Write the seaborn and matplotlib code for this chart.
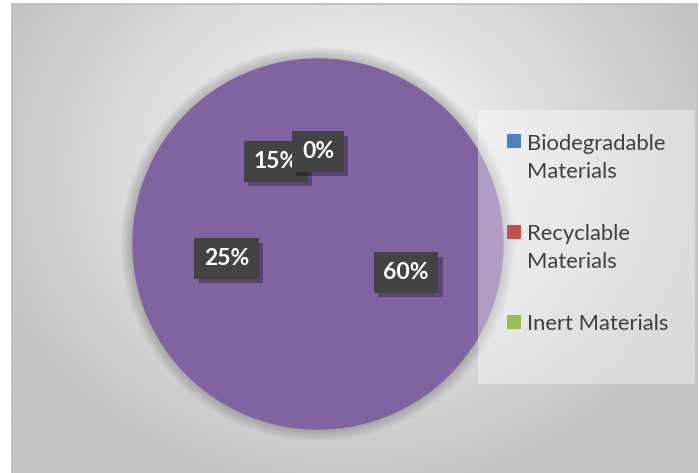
import numpy as np
import matplotlib.pyplot as plt
import matplotlib.patheffects as pe
from matplotlib.patches import Circle, Rectangle
import seaborn as sns

# slice values (Excel starts at 12 o'clock, clockwise)
slice_values = [60, 25, 15, 0]
slice_color = "#8064A2"

legend_labels = ["Biodegradable\nMaterials", "Recyclable\nMaterials", "Inert Materials"]
legend_colors = ["#4F81BD", "#C0504D", "#9BBB59"]

W, H = 699, 473


def px(x, y):
    # pixel (top-left origin) -> figure fraction
    return x / W, 1 - y / H


def plot_waste_pie():
    sns.set_theme(style="white")
    plt.rcParams["font.family"] = ["Lato", "DejaVu Sans"]

    fig = plt.figure(figsize=(W / 100, H / 100), dpi=100)
    fig.patch.set_facecolor("white")

    # chart area with radial grey gradient
    l, b = px(12, 473)
    r, t = px(697, 4)
    bg = fig.add_axes([l, b, r - l, t - b], zorder=-1)
    gx, gy = np.meshgrid(np.linspace(12, 697, 300), np.linspace(4, 473, 220))
    d = np.sqrt(((gx - 350) / 420) ** 2 + ((gy - 170) / 360) ** 2)
    shade = np.clip(252 - 62 * d, 196, 252) / 255
    bg.imshow(shade, cmap="gray", vmin=0, vmax=1, aspect="auto",
              extent=[0, 1, 0, 1], interpolation="bicubic")
    bg.set_xlim(0, 1)
    bg.set_ylim(0, 1)
    bg.set_xticks([])
    bg.set_yticks([])
    for s in bg.spines.values():
        s.set_color("#bcbcbc")
        s.set_linewidth(1.2)
    bg.spines["bottom"].set_visible(False)

    # pie
    pl, pb = px(133, 429)
    ax = fig.add_axes([pl, pb, 370 / W, 370 / H])
    # soft glow round the pie
    for i in range(12):
        ax.add_patch(Circle((0, 0), 1 + 0.006 * i, color="black", alpha=0.018,
                            lw=0, zorder=0, clip_on=False))
    wedges, texts, autotexts = ax.pie(
        slice_values,
        colors=[slice_color] * len(slice_values),
        startangle=90,
        counterclock=False,
        autopct="%1.0f%%",
        pctdistance=0.5,
        radius=1,
        wedgeprops=dict(linewidth=1, edgecolor=slice_color, zorder=1),
        textprops=dict(color="white", fontsize=16.5, fontweight="bold"),
    )
    for at in autotexts:
        at.set_zorder(5)
        at.set_bbox(dict(boxstyle="square,pad=0.42", facecolor="#434343",
                         edgecolor="none"))
        at.get_bbox_patch().set_path_effects([
            pe.SimplePatchShadow(offset=(3, -3), shadow_rgbFace="black", alpha=0.3),
            pe.Normal(),
        ])
    ax.set_xlim(-1, 1)
    ax.set_ylim(-1, 1)
    ax.set_aspect("equal")
    ax.axis("off")

    # legend (semi transparent box over the pie)
    lx, lb = px(478, 384)
    lr, lt = px(695, 110)
    fig.patches.append(Rectangle((lx, lb), lr - lx, lt - lb, transform=fig.transFigure,
                                 facecolor="white", alpha=0.38, edgecolor="none",
                                 zorder=3))
    for i, (lab, col) in enumerate(zip(legend_labels, legend_colors)):
        cy = 141 + i * 90.5
        sx, sy = px(507, cy + 7)
        fig.patches.append(Rectangle((sx, sy), 14 / W, 14 / H, transform=fig.transFigure,
                                     facecolor=col, edgecolor="none", zorder=4))
        extra = lab.count("\n") * 29
        tx, ty = px(527, cy + 7.5 + extra)
        fig.text(tx, ty, lab, fontsize=15.8, color="#404040", va="baseline",
                 ha="left", linespacing=1.48, zorder=4)

    fig.savefig("out.png", dpi=100)


if __name__ == "__main__":
    plot_waste_pie()
